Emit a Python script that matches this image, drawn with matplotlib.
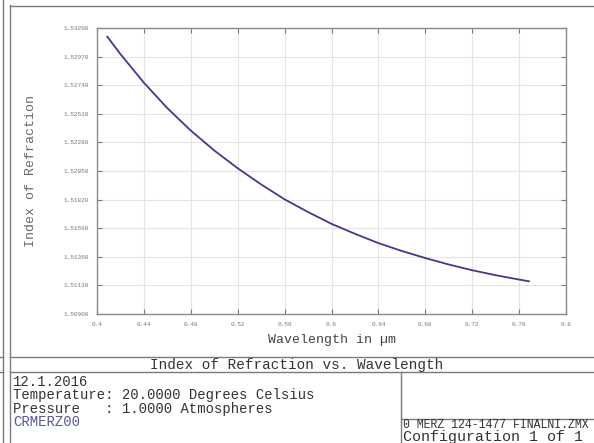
import matplotlib
matplotlib.use('Agg')
import matplotlib.pyplot as plt

# refractive index curve
wavelength = [0.4088, 0.42, 0.44, 0.46, 0.48, 0.50, 0.52, 0.54, 0.56, 0.58,
              0.60, 0.62, 0.64, 0.66, 0.68, 0.70, 0.72, 0.74, 0.76, 0.7684]
index = [1.53130, 1.52990, 1.52760, 1.52555, 1.52375, 1.52215, 1.52072, 1.51942,
         1.51822, 1.51720, 1.51625, 1.51545, 1.51470, 1.51407, 1.51350, 1.51298,
         1.51252, 1.51212, 1.51177, 1.51163]

x_labels = ['0.4', '0.44', '0.48', '0.52', '0.56', '0.6', '0.64', '0.68', '0.72', '0.76', '0.8']
y_labels = ['1.50900', '1.51130', '1.51360', '1.51590', '1.51820', '1.52050',
            '1.52280', '1.52510', '1.52740', '1.52970', '1.53200']
x_ticks = [float(s) for s in x_labels]
y_ticks = [float(s) for s in y_labels]

title = 'Index of Refraction vs. Wavelength'
info_lines = ['12.1.2016',
              'Temperature: 20.0000 Degrees Celsius',
              'Pressure   : 1.0000 Atmospheres']
glass_name = 'CRMERZ00'
file_name = '0 MERZ 124-1477 FINALNI.ZMX'
config_text = 'Configuration 1 of 1'

plt.rcParams['font.family'] = ['Liberation Mono', 'DejaVu Sans Mono']

W, H = 594, 443
fig = plt.figure(figsize=(W / 100, H / 100), dpi=100)

# frame / text boxes in pixel coordinates
bg = fig.add_axes([0, 0, 1, 1])
bg.set_xlim(0, W)
bg.set_ylim(H, 0)
bg.set_axis_off()
frame = dict(color='#7a7a7a', lw=1.0)
bg.plot([2.5, 2.5], [0, H], **frame)
bg.plot([9.5, 9.5], [5, H], **frame)
bg.plot([9.5, W], [5.5, 5.5], **frame)
bg.plot([9.5, W], [357, 357], **frame)
bg.plot([9.5, W], [372, 372], **frame)
bg.plot([0, 2.5], [357, 357], **frame)
bg.plot([0, 2.5], [372, 372], **frame)
bg.plot([400.5, 400.5], [372, H], **frame)
bg.plot([400.5, W], [418.5, 418.5], **frame)

bg.text(297, 364.5, title, fontsize=10.4, color='#333333', ha='center', va='center')
for i, line in enumerate(info_lines):
    bg.text(13, 381.5 + i * 13.5, line, fontsize=10, color='#333333', ha='left', va='center')
bg.text(13, 381.5 + 3 * 13.5, glass_name, fontsize=10, color='#55559f', ha='left', va='center')
bg.text(403, 424.5, file_name, fontsize=8.3, color='#333333', ha='left', va='center')
bg.text(403, 436.5, config_text, fontsize=10.8, color='#333333', ha='left', va='center')

bg.text(332, 340, 'Wavelength in µm', fontsize=9.5, color='#444444', ha='center', va='center')
bg.text(31, 171, 'Index of Refraction', fontsize=9.5, color='#666666',
        ha='center', va='center', rotation=90)

# main plot
ax = fig.add_axes([97 / W, 1 - 314 / H, 469 / W, 286 / H])
ax.plot(wavelength, index, color='#3b3b8f', lw=1.3)
ax.set_xlim(0.4, 0.8)
ax.set_ylim(1.509, 1.532)
ax.set_xticks(x_ticks)
ax.set_xticklabels(x_labels)
ax.set_yticks(y_ticks)
ax.set_yticklabels(y_labels)
ax.grid(True, color='#e4e4e4', lw=0.8)
ax.set_axisbelow(True)
ax.tick_params(direction='in', length=3.5, width=0.8, color='#777777',
               labelsize=4.4, labelcolor='#777777', top=True, right=True, pad=6)
for s in ax.spines.values():
    s.set_color('#8a8a8a')
    s.set_linewidth(1.0)

fig.savefig('out.png', dpi=100)
